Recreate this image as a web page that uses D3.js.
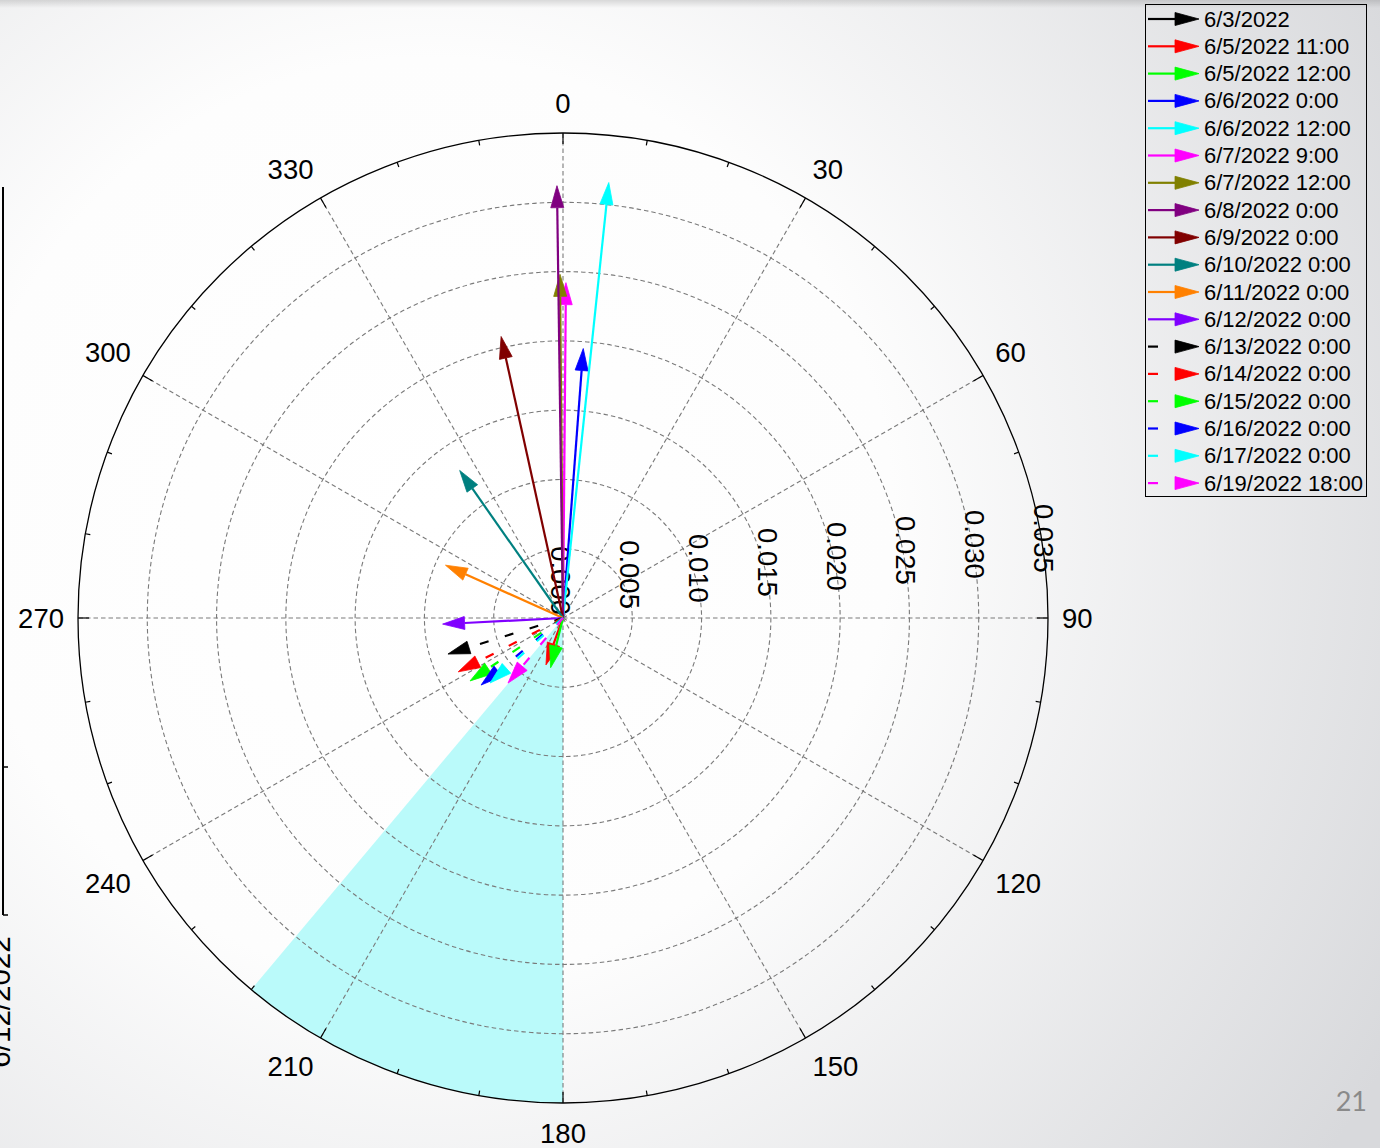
<!DOCTYPE html>
<html>
<head>
<meta charset="utf-8">
<script src="https://cdn.jsdelivr.net/npm/d3@7"></script>
<style>
  html, body { margin: 0; padding: 0; overflow: hidden; }
  svg { display: block; }
</style>
</head>
<body>
<svg id="chart" width="1380" height="1148"></svg>
<script>
// ---- data ----
const dates = ["6/3/2022", "6/5/2022 11:00", "6/5/2022 12:00", "6/6/2022 0:00", "6/6/2022 12:00",
  "6/7/2022 9:00", "6/7/2022 12:00", "6/8/2022 0:00", "6/9/2022 0:00", "6/10/2022 0:00",
  "6/11/2022 0:00", "6/12/2022 0:00", "6/13/2022 0:00", "6/14/2022 0:00", "6/15/2022 0:00",
  "6/16/2022 0:00", "6/17/2022 0:00", "6/19/2022 18:00"];
// direction in compass degrees (0 = up, clockwise)
const directions = [240, 200, 194, 4.3, 6.0, 0.5, 359.5, 359.2, 347.6, 325, 294.2, 267.1,
  252.6, 242.8, 235.9, 230.7, 228.3, 220.2];
const magnitudes = [0.0007, 0.0036, 0.0037, 0.0195, 0.0316, 0.0242, 0.0248, 0.0312, 0.0208, 0.0130,
  0.0093, 0.0087, 0.0087, 0.0085, 0.0081, 0.00764, 0.00705, 0.00615];
const colors = ["#000000", "#ff0000", "#00ff00", "#0000ff", "#00ffff", "#ff00ff", "#808000", "#800080",
  "#800000", "#008080", "#ff8000", "#8000ff", "#000000", "#ff0000", "#00ff00", "#0000ff", "#00ffff", "#ff00ff"];
const dashed = [false, false, false, false, false, false, false, false, false, false, false, false,
  true, true, true, true, true, true];

const rTicks = [0, 0.005, 0.010, 0.015, 0.020, 0.025, 0.030, 0.035];
const thetaTicks = [0, 30, 60, 90, 120, 150, 180, 210, 240, 270, 300, 330];
const sector = [180, 220];  // shaded direction band

// ---- layout ----
const svg = d3.select("#chart");
const W = 1380, H = 1148;
const cx = 563, cy = 618, R = 485;
const r = d3.scaleLinear().domain([0, 0.035]).range([0, R]);
const toRad = d => d * Math.PI / 180;
const px = (deg, rad) => cx + rad * Math.sin(toRad(deg));
const py = (deg, rad) => cy - rad * Math.cos(toRad(deg));

// ---- background ----
const defs = svg.append("defs");
const bg = defs.append("radialGradient").attr("id", "bg")
  .attr("gradientUnits", "userSpaceOnUse").attr("cx", 430).attr("cy", 520).attr("r", 1100);
bg.append("stop").attr("offset", 0).attr("stop-color", "#ffffff");
bg.append("stop").attr("offset", 0.42).attr("stop-color", "#fdfdfd");
bg.append("stop").attr("offset", 1).attr("stop-color", "#d8d9dc");
svg.append("rect").attr("width", W).attr("height", H).attr("fill", "url(#bg)");
const topShade = defs.append("linearGradient").attr("id", "topShade").attr("x1", 0).attr("x2", 0).attr("y1", 0).attr("y2", 1);
topShade.append("stop").attr("offset", 0).attr("stop-color", "#000").attr("stop-opacity", 0.13);
topShade.append("stop").attr("offset", 1).attr("stop-color", "#000").attr("stop-opacity", 0);
svg.append("rect").attr("width", W).attr("height", 8).attr("fill", "url(#topShade)");

// ---- left fragment of neighbouring time axis ----
const frag = svg.append("g");
frag.append("line").attr("x1", 3).attr("x2", 3).attr("y1", 187).attr("y2", 915)
  .attr("stroke", "#000").attr("stroke-width", 2);
[767, 915].forEach(y => frag.append("line").attr("x1", 3).attr("x2", 8).attr("y1", y).attr("y2", y)
  .attr("stroke", "#000").attr("stroke-width", 1.5));
frag.append("text").attr("transform", "translate(10,1002) rotate(-90)")
  .attr("text-anchor", "middle").attr("font-family", "Liberation Sans, Arial, sans-serif")
  .attr("font-size", 29.5).text("6/12/2022");

// ---- shaded sector ----
const arc = d3.arc().innerRadius(0).outerRadius(R)
  .startAngle(toRad(sector[0])).endAngle(toRad(sector[1]));
svg.append("path").attr("d", arc()).attr("transform", `translate(${cx},${cy})`)
  .attr("fill", "#bafafa");

// ---- grid ----
const grid = svg.append("g").attr("fill", "none").attr("stroke", "#7a7a7a")
  .attr("stroke-width", 1.1).attr("stroke-dasharray", "4.5,3");
rTicks.filter(v => v > 0 && v < 0.035).forEach(v =>
  grid.append("circle").attr("cx", cx).attr("cy", cy).attr("r", r(v)));
thetaTicks.forEach(t =>
  grid.append("line").attr("x1", cx).attr("y1", cy).attr("x2", px(t, R)).attr("y2", py(t, R)));

// outer ring and ticks
svg.append("circle").attr("cx", cx).attr("cy", cy).attr("r", R)
  .attr("fill", "none").attr("stroke", "#000").attr("stroke-width", 1.3);
const ticks = svg.append("g").attr("stroke", "#000").attr("stroke-width", 1.2);
d3.range(0, 360, 10).forEach(t => {
  const len = t % 30 === 0 ? 11 : 5;
  ticks.append("line").attr("x1", px(t, R)).attr("y1", py(t, R))
    .attr("x2", px(t, R - len)).attr("y2", py(t, R - len));
});

// angle labels: the label box corner nearest the centre sits just outside the ring
const angG = svg.append("g").attr("font-family", "Liberation Sans, Arial, sans-serif")
  .attr("font-size", 27.5).attr("fill", "#000");
const halfBox = 16;
thetaTicks.forEach(t => {
  const s = Math.sin(toRad(t)), c = Math.cos(toRad(t));
  const ax = px(t, R + 14), ay = py(t, R + 14);
  const anchor = Math.abs(s) < 0.01 ? "middle" : (s > 0 ? "start" : "end");
  const dy = Math.abs(c) < 0.01 ? 0 : (c > 0 ? -halfBox : halfBox);
  angG.append("text").attr("x", ax).attr("y", ay + dy)
    .attr("text-anchor", anchor).attr("dominant-baseline", "central").text(t);
});

// radial labels along the 85 degree ray, rotated
const radG = svg.append("g").attr("font-family", "Liberation Sans, Arial, sans-serif")
  .attr("font-size", 27.5).attr("fill", "#000");
rTicks.forEach(v => {
  const x = px(85, r(v)) - 3, y = py(85, r(v)) - 3;
  radG.append("text").attr("transform", `translate(${x},${y}) rotate(90)`)
    .attr("text-anchor", "end").attr("dominant-baseline", "central")
    .text(d3.format(".3f")(v));
});

// ---- arrows ----
const HEAD_L = 22, HEAD_W = 6.5;
function headPoints(x0, y0, x1, y1, L, Wd) {
  const dx = x1 - x0, dy = y1 - y0, len = Math.hypot(dx, dy);
  const ux = dx / len, uy = dy / len;
  const bx = x1 - ux * L, by = y1 - uy * L;
  return [[x1, y1], [bx - uy * Wd, by + ux * Wd], [bx + uy * Wd, by - ux * Wd]];
}
const arrows = svg.append("g");
dates.forEach((d, i) => {
  const len = r(magnitudes[i]);
  const x1 = px(directions[i], len), y1 = py(directions[i], len);
  const L = Math.min(HEAD_L, len * 0.8), Wd = HEAD_W * L / HEAD_L;
  const bx = px(directions[i], len - L), by = py(directions[i], len - L);
  arrows.append("line").attr("x1", cx).attr("y1", cy).attr("x2", bx).attr("y2", by)
    .attr("stroke", colors[i]).attr("stroke-width", 2.2)
    .attr("stroke-dasharray", dashed[i] ? "9,17" : null);
  arrows.append("polygon").attr("points", headPoints(cx, cy, x1, y1, L, Wd).map(p => p.join(",")).join(" "))
    .attr("fill", colors[i]).attr("stroke", colors[i]).attr("stroke-width", 0.8);
});

// ---- legend ----
const lg = svg.append("g");
lg.append("rect").attr("x", 1145.5).attr("y", 4.5).attr("width", 221).attr("height", 492)
  .attr("fill", "none").attr("stroke", "#000").attr("stroke-width", 1);
dates.forEach((d, i) => {
  const y = 19 + i * 27.3;
  lg.append("line").attr("x1", 1148).attr("x2", 1177).attr("y1", y).attr("y2", y)
    .attr("stroke", colors[i]).attr("stroke-width", 2.2)
    .attr("stroke-dasharray", dashed[i] ? "10,40" : null);
  lg.append("polygon").attr("points", headPoints(1148, y, 1199, y, 24, 6.5).map(p => p.join(",")).join(" "))
    .attr("fill", colors[i]).attr("stroke", colors[i]).attr("stroke-width", 0.8);
  lg.append("text").attr("x", 1204).attr("y", y).attr("dominant-baseline", "central")
    .attr("font-family", "Liberation Sans, Arial, sans-serif").attr("font-size", 22).text(d);
});

// ---- page number ----
svg.append("text").attr("x", 1367).attr("y", 1111).attr("text-anchor", "end")
  .attr("font-family", "Lato, Open Sans, sans-serif").attr("font-size", 27).attr("fill", "#8a8a8a")
  .text("21");
</script>
</body>
</html>
